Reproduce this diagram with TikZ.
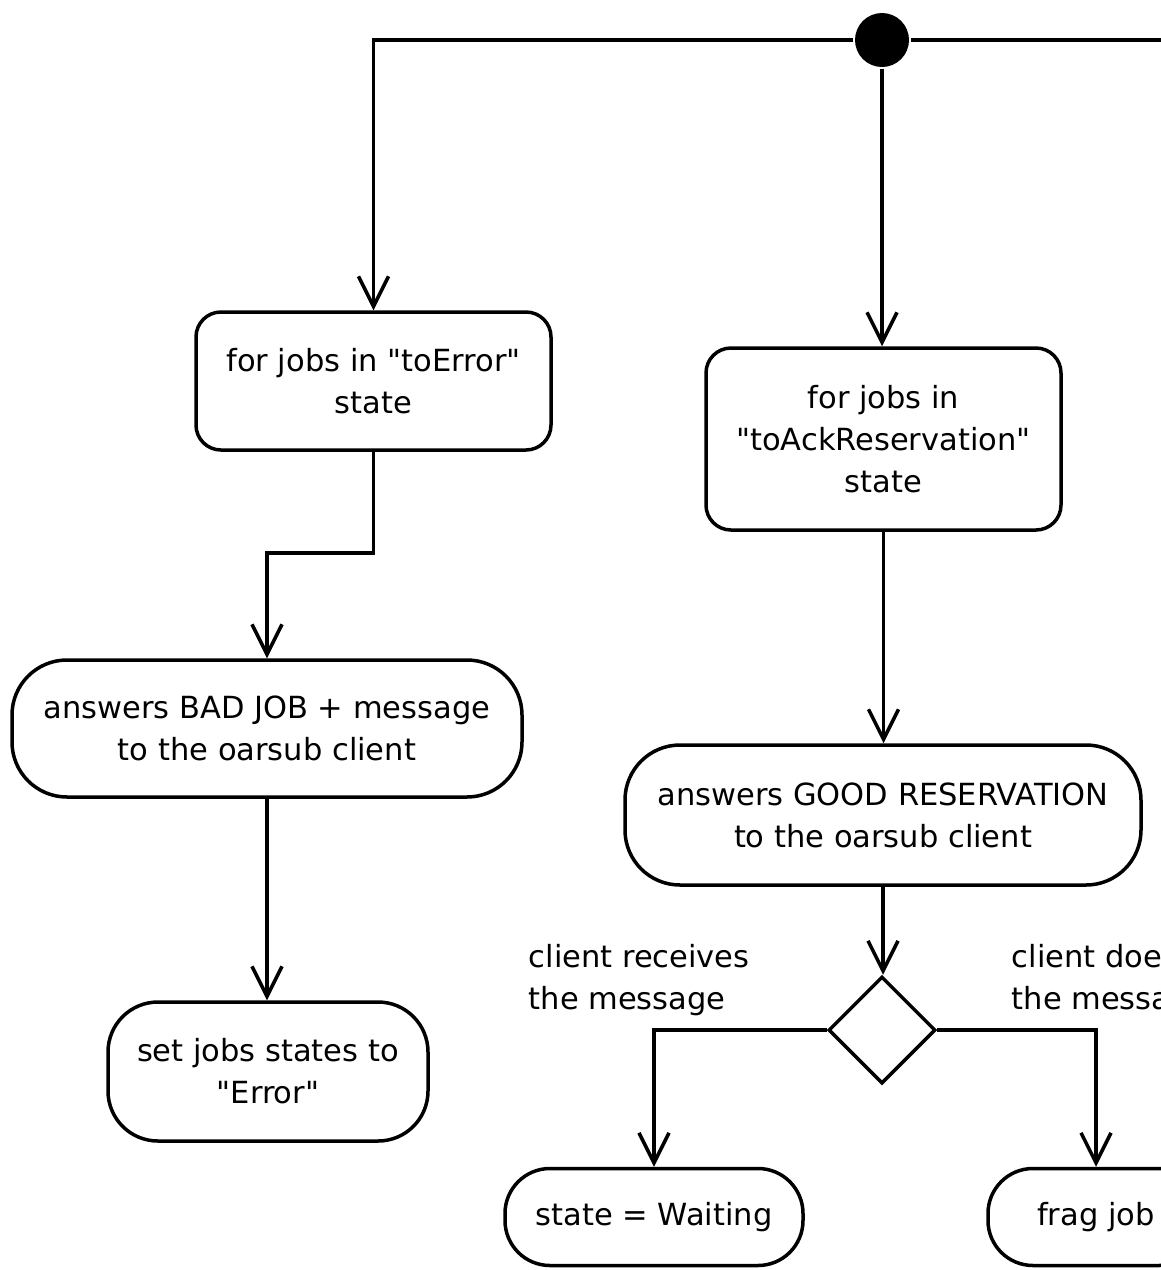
\documentclass[tikz,border=0pt]{standalone}
\usepackage{fontspec}
% plain font mapping, so that " stays a straight double quote
\setmainfont{DejaVu Sans}[Ligatures=TeXOff]
\usetikzlibrary{arrows.meta,shapes.geometric}

\begin{document}
\begin{tikzpicture}[x=1pt,y=-1pt,
  line width=3.5pt,
  txt/.style={font=\fontsize{30.5}{42}\selectfont},
  activity/.style={txt, draw, rectangle, inner sep=0pt, align=center},
  decision/.style={draw, diamond, aspect=1, inner sep=0pt, minimum width=107pt, minimum height=107pt},
  forkdot/.style={circle, fill=black, inner sep=0pt, minimum size=54pt},
  guard/.style={txt, inner sep=0pt, align=left, anchor=north west},
  flow/.style={-{Straight Barb[length=30pt,width=30pt]}},
]
\useasboundingbox (0,0) rectangle (1161,1270);
\clip (0,0) rectangle (1161,1270);

% start of the two branches
\node[forkdot] (fork) at (882,40) {};
\coordinate (exit) at (1190,40);
\coordinate (bend) at (373,553);

% left branch: jobs in error
\node[activity, rounded corners=25pt, minimum width=355pt, minimum height=138pt]
  (err) at (373.5,381) {for jobs in "toError"\\state};
\node[activity, rounded corners=55pt, minimum width=510pt, minimum height=137pt]
  (bad) at (267,728.5) {answers BAD JOB + message\\to the oarsub client};
\node[activity, rounded corners=50pt, minimum width=320pt, minimum height=139pt]
  (seterr) at (268,1071.5) {set jobs states to\\"Error"};

% right branch: reservations to acknowledge
\node[activity, rounded corners=25pt, minimum width=355pt, minimum height=182pt]
  (ack) at (883.5,439) {for jobs in\\"toAckReservation"\\state};
\node[activity, rounded corners=55pt, minimum width=516pt, minimum height=140pt]
  (good) at (883,815) {answers GOOD RESERVATION\\to the oarsub client};
\node[decision] (recv) at (882,1030) {};
\node[activity, rounded corners=45pt, minimum width=298pt, minimum height=97pt]
  (wait) at (654,1217) {state = Waiting};
\node[activity, rounded corners=45pt, minimum width=216pt, minimum height=97pt]
  (frag) at (1096,1217) {frag job};

% guards of the decision
\node[guard] (gyes) at (527,943) {client receives\\the message};
\node[guard] (gno) at (1010,943) {client does not receive\\the message};

% connectors
\draw (fork) -- (exit);
\draw[flow] (fork) -- (err.north |- fork) -- (err.north);
\draw[flow] (fork) -- (fork |- ack.north);
\draw[flow] (err.south) -- (err.south |- bend) -| (bad.north);
\draw[flow] (bad.south) -- (bad.south |- seterr.north);
\draw[flow] (ack.south) -- (ack.south |- good.north);
\draw[flow] (good.south) -- (good.south |- recv.north);
\draw[flow] (recv.west) -| (wait.north);
\draw[flow] (recv.east) -| (frag.north);
\end{tikzpicture}
\end{document}
